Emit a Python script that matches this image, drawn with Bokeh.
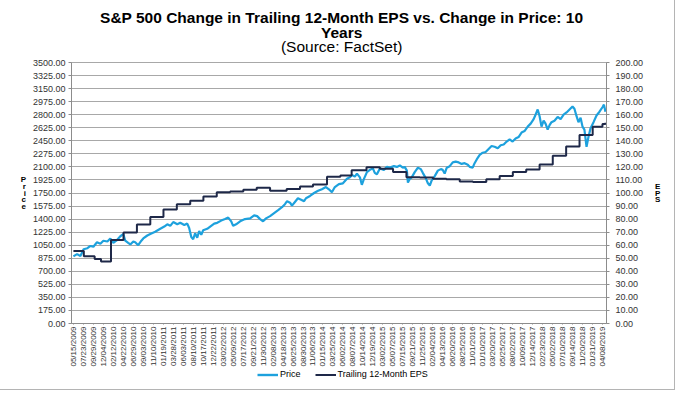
import math
from bokeh.plotting import figure
from bokeh.layouts import column
from bokeh.models import (LinearAxis, Range1d, FixedTicker, NumeralTickFormatter,
                          Label, Legend, LegendItem)
from bokeh.embed import file_html
from bokeh.resources import INLINE

FONT = "Liberation Sans"

# ---------------- data ----------------
title_lines = ["S&P 500 Change in Trailing 12-Month EPS vs. Change in Price: 10",
               "Years", "(Source: FactSet)"]

tick_labels = [
    "05/15/2009", "07/23/2009", "09/29/2009", "12/04/2009", "02/12/2010", "04/22/2010",
    "06/29/2010", "09/03/2010", "11/10/2010", "01/19/2011", "03/28/2011", "06/03/2011",
    "08/10/2011", "10/17/2011", "12/22/2011", "03/02/2012", "05/09/2012", "07/17/2012",
    "09/21/2012", "11/30/2012", "02/08/2013", "04/18/2013", "06/25/2013", "08/30/2013",
    "11/06/2013", "01/15/2014", "03/25/2014", "06/02/2014", "08/07/2014", "10/14/2014",
    "12/19/2014", "03/02/2015", "05/07/2015", "07/15/2015", "09/21/2015", "11/25/2015",
    "02/04/2016", "04/13/2016", "06/20/2016", "08/25/2016", "11/01/2016", "01/10/2017",
    "03/20/2017", "05/25/2017", "08/02/2017", "10/09/2017", "12/14/2017", "02/23/2018",
    "05/02/2018", "07/10/2018", "09/14/2018", "11/20/2018", "01/31/2019", "04/08/2019",
]
DAYS_PER_LABEL = 47  # trading days between category labels

# trading-day index of each price sample, and the S&P 500 price
price_day = [
    0, 17, 33, 48, 66, 80, 94, 111, 127, 141,
    160, 174, 188, 202, 221, 235, 244, 258, 268, 282,
    291, 305, 320, 329, 348, 362, 385, 409, 428, 442,
    456, 470, 489, 503, 522, 536, 545, 555, 564, 573,
    583, 592, 602, 611, 630, 644, 663, 677, 696, 714,
    729, 743, 752, 766, 785, 808, 832, 851, 865, 879,
    893, 907, 926, 945, 964, 982, 996, 1006, 1020, 1029,
    1043, 1057, 1072, 1086, 1095, 1114, 1133, 1152, 1170, 1189,
    1203, 1217, 1231, 1250, 1269, 1288, 1302, 1311, 1325, 1335,
    1349, 1358, 1368, 1382, 1396, 1410, 1419, 1429, 1443, 1462,
    1476, 1490, 1509, 1523, 1537, 1551, 1560, 1570, 1575, 1584,
    1593, 1607, 1622, 1636, 1645, 1659, 1669, 1678, 1687, 1702,
    1716, 1730, 1739, 1748, 1758, 1772, 1786, 1800, 1814, 1828,
    1842, 1857, 1866, 1880, 1889, 1899, 1913, 1927, 1941, 1955,
    1969, 1983, 1998, 2012, 2026, 2040, 2054, 2068, 2082, 2096,
    2110, 2124, 2139, 2153, 2167, 2176, 2186, 2195, 2204, 2214,
    2223, 2233, 2242, 2251, 2265, 2280, 2294, 2308, 2322, 2336,
    2350, 2359, 2369, 2378, 2388, 2397, 2406, 2416, 2425, 2435,
    2449, 2463, 2477, 2491, 2498, 2505,
]
price_value = [
    900, 930, 905, 995, 1010, 1040, 1030, 1090, 1070, 1110,
    1100, 1140, 1080, 1110, 1170, 1200, 1110, 1080, 1060, 1100,
    1090, 1050, 1110, 1140, 1180, 1200, 1230, 1270, 1300, 1330,
    1310, 1360, 1330, 1350, 1320, 1340, 1280, 1160, 1130, 1210,
    1150, 1240, 1190, 1250, 1270, 1300, 1340, 1350, 1380, 1400,
    1420, 1370, 1310, 1330, 1370, 1400, 1410, 1450, 1440, 1400,
    1370, 1410, 1440, 1480, 1520, 1560, 1600, 1640, 1620, 1580,
    1630, 1680, 1660, 1640, 1680, 1710, 1750, 1780, 1800, 1830,
    1800, 1760, 1830, 1870, 1880, 1940, 1960, 1990, 1970, 2010,
    1960, 1860, 1940, 2030, 2060, 2080, 2020, 2000, 2080, 2060,
    2100, 2090, 2110, 2100, 2120, 2090, 2100, 2050, 1890, 1940,
    1960, 2030, 2090, 2070, 2020, 1950, 1880, 1850, 1920, 1980,
    2050, 2070, 2060, 2010, 2090, 2110, 2160, 2170, 2160, 2140,
    2150, 2130, 2100, 2090, 2150, 2200, 2260, 2290, 2300, 2340,
    2380, 2370, 2350, 2390, 2400, 2440, 2470, 2440, 2480, 2500,
    2560, 2580, 2640, 2680, 2740, 2800, 2870, 2780, 2640, 2720,
    2680, 2600, 2660, 2700, 2720, 2770, 2740, 2800, 2830, 2870,
    2910, 2880, 2780, 2700, 2760, 2640, 2600, 2370, 2500, 2620,
    2700, 2790, 2840, 2900, 2935, 2840,
]

# trailing 12-month EPS (step changes)
eps_day = [
    0, 49, 100, 130, 177, 236, 299, 362, 424, 487,
    550, 612, 675, 738, 800, 863, 926, 1004, 1067, 1128,
    1194, 1257, 1310, 1380, 1443, 1505, 1568, 1631, 1693, 1756,
    1819, 1881, 1944, 2007, 2069, 2132, 2195, 2257, 2320, 2383,
    2445, 2491, 2505,
]
eps_value = [
    55.5, 51.5, 49.5, 47.5, 64.0, 69.8, 75.8, 81.6, 87.3, 91.4,
    94.0, 97.4, 100.5, 101.2, 102.5, 104.0, 101.7, 103.0, 105.0, 106.5,
    112.5, 113.5, 117.5, 119.8, 118.5, 116.0, 112.0, 111.8, 111.0, 110.5,
    108.8, 108.5, 110.5, 113.0, 116.0, 118.0, 121.8, 128.6, 135.6, 144.5,
    150.8, 152.8, 153.8,
]

series_names = ["Price", "Trailing 12-Month EPS"]

price_ticks = [i * 175 for i in range(21)]
eps_ticks = [i * 10 for i in range(21)]

assert len(price_day) == len(price_value)
assert len(eps_day) == len(eps_value)

PRICE_COLOR = "#1DA1DD"
EPS_COLOR = "#1E2848"
AXIS_COLOR = "#8C8C8C"
GRID_COLOR = "#A8A8A8"
LABEL_COLOR = "#333333"

W = 672
TITLE_H, MAIN_H, LEGEND_H = 56, 313, 18

tick_pos = [i * DAYS_PER_LABEL for i in range(len(tick_labels))]


def strip(height):
    s = figure(width=W, height=height, output_backend="svg", toolbar_location=None,
               title=None, x_range=Range1d(0, 1), y_range=Range1d(0, height),
               x_axis_location=None, y_axis_location=None,
               min_border=0, min_border_left=0, min_border_right=0,
               min_border_top=0, min_border_bottom=0,
               background_fill_color="white", border_fill_color="white")
    s.grid.visible = False
    s.outline_line_color = None
    return s


# ---------------- title strip ----------------
ts = strip(TITLE_H)
for txt, yy, style in zip(title_lines, [39.5, 24.5, 10.5], ["bold", "bold", "normal"]):
    ts.add_layout(Label(x=0.505, y=yy, text=txt, text_align="center",
                        text_baseline="middle", text_font=FONT,
                        text_font_size="15.5px", text_font_style=style,
                        text_color="black"))

# ---------------- main figure ----------------
p = figure(width=W, height=MAIN_H, output_backend="svg", toolbar_location=None,
           title=None,
           x_range=Range1d(-9, 2510), y_range=Range1d(0, 3500),
           min_border_left=71, min_border_right=66, min_border_top=6,
           min_border_bottom=43,
           background_fill_color="white", border_fill_color="white")
p.extra_y_ranges = {"eps": Range1d(0, 200)}
p.outline_line_color = GRID_COLOR

p.line(price_day, price_value, line_color=PRICE_COLOR, line_width=2.2)
p.step(eps_day, eps_value, mode="after", y_range_name="eps",
       line_color=EPS_COLOR, line_width=2)

p.xgrid.visible = False
p.ygrid.ticker = FixedTicker(ticks=price_ticks)
p.ygrid.grid_line_color = GRID_COLOR
p.ygrid.grid_line_width = 1

xa = p.xaxis[0]
xa.ticker = FixedTicker(ticks=tick_pos)
xa.major_label_overrides = {t: lab for t, lab in zip(tick_pos, tick_labels)}
xa.major_label_orientation = math.pi / 2
xa.major_label_text_font = FONT
xa.major_label_text_font_size = "8px"
xa.major_label_text_color = LABEL_COLOR
xa.major_label_standoff = 2
xa.major_tick_out = 1
xa.major_tick_in = 0
xa.minor_tick_out = 0
xa.minor_tick_in = 0
xa.axis_line_color = AXIS_COLOR
xa.major_tick_line_color = AXIS_COLOR

ya = p.yaxis[0]
ya.ticker = FixedTicker(ticks=price_ticks)
ya.formatter = NumeralTickFormatter(format="0.00")
ya.major_label_text_font = FONT
ya.major_label_text_font_size = "9px"
ya.major_label_text_color = LABEL_COLOR
ya.major_label_standoff = 3
ya.major_tick_out = 3
ya.major_tick_in = 0
ya.minor_tick_out = 0
ya.minor_tick_in = 0
ya.axis_line_color = AXIS_COLOR
ya.major_tick_line_color = AXIS_COLOR
ya.axis_label = "P\nr\ni\nc\ne"
ya.axis_label_orientation = "horizontal"
ya.axis_label_text_font = FONT
ya.axis_label_text_font_size = "8px"
ya.axis_label_text_font_style = "bold"
ya.axis_label_text_color = "black"
ya.axis_label_text_line_height = 0.75
ya.axis_label_standoff = 4

ra = LinearAxis(y_range_name="eps", ticker=FixedTicker(ticks=eps_ticks),
                formatter=NumeralTickFormatter(format="0.00"))
ra.major_label_text_font = FONT
ra.major_label_text_font_size = "9px"
ra.major_label_text_color = LABEL_COLOR
ra.major_label_standoff = 6
ra.major_tick_out = 3
ra.major_tick_in = 0
ra.minor_tick_out = 0
ra.minor_tick_in = 0
ra.axis_line_color = AXIS_COLOR
ra.major_tick_line_color = AXIS_COLOR
ra.axis_label = "E\nP\nS"
ra.axis_label_orientation = "horizontal"
ra.axis_label_text_font = FONT
ra.axis_label_text_font_size = "8px"
ra.axis_label_text_font_style = "bold"
ra.axis_label_text_color = "black"
ra.axis_label_text_line_height = 0.75
ra.axis_label_standoff = 9
p.add_layout(ra, "right")

# ---------------- legend strip ----------------
lg = strip(LEGEND_H)
# same series, drawn outside this strip's view; only their legend keys show
k_price = lg.line(price_day, price_value, line_color=PRICE_COLOR, line_width=2.4)
k_eps = lg.line(eps_day, eps_value, line_color=EPS_COLOR, line_width=2)
legend = Legend(items=[LegendItem(label=series_names[0], renderers=[k_price]),
                       LegendItem(label=series_names[1], renderers=[k_eps])],
                orientation="horizontal", location=(186, 8),
                label_text_font=FONT, label_text_font_size="9px",
                label_text_color="black",
                label_height=9,
                glyph_width=21, glyph_height=9, label_standoff=2,
                spacing=14, padding=0, margin=0,
                border_line_alpha=0, background_fill_alpha=0)
lg.add_layout(legend)

layout = column(ts, p, lg, spacing=0)
layout.styles = {"outline": "1px solid #B4B4B4", "outline-offset": "2px"}

open("out.html", "w").write(file_html(layout, INLINE))
